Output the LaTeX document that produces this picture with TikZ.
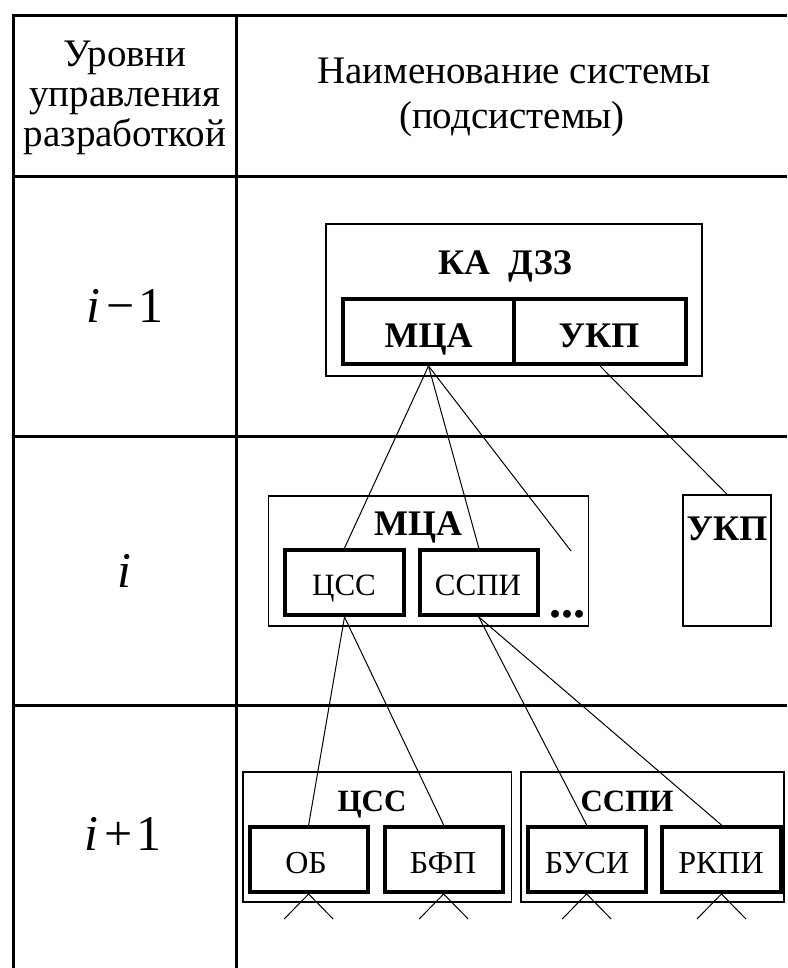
\documentclass[tikz,border=0pt]{standalone}
\usepackage{fontspec}
\setmainfont{Liberation Serif}
\newcommand\hdrfont{\fontsize{39}{44}\selectfont}
\newcommand\mathlbl{\fontsize{50}{56}\selectfont}
\newcommand\bigbold{\fontsize{36}{40}\selectfont\bfseries}
\newcommand\midbold{\fontsize{31}{36}\selectfont\bfseries}
\newcommand\regfont{\fontsize{31}{36}\selectfont}
\newcommand\lowfont{\fontsize{32}{36}\selectfont}
\begin{document}
\begin{tikzpicture}[x=1pt,y=-1pt,
  grid/.style={line width=3pt},
  outerbox/.style={draw,rectangle,line width=1.5pt,inner sep=0pt},
  innerbox/.style={draw,rectangle,line width=4pt,inner sep=0pt},
  link/.style={line width=1pt},
  lbl/.style={anchor=base,inner sep=0pt}]
\useasboundingbox (0,0) rectangle (787,968);
% table
\draw[grid] (13,968) -- (13,16) -- (787,16);
\draw[grid] (236.5,16) -- (236.5,968);
\draw[grid] (13,177) -- (787,177);
\draw[grid] (13,436.5) -- (787,436.5);
\draw[grid] (13,705) -- (787,705);
% header
\node[lbl] (h1) at (125,67) {\hdrfont Уровни};
\node[lbl] (h2) at (125,107) {\hdrfont управления};
\node[lbl] (h3) at (125,147) {\hdrfont разработкой};
\node[lbl] (h4) at (514,84) {\hdrfont Наименование системы};
\node[lbl] (h5) at (512,129) {\hdrfont (подсистемы)};
% levels
\node[lbl] (l1) at (125,322) {\mathlbl\textit{i}\hspace{0.12em}−\hspace{0.08em}1};
\node[lbl] (l2) at (124,587) {\mathlbl\textit{i}};
\node[lbl] (l3) at (123,850) {\mathlbl\textit{i}\hspace{0.12em}+\hspace{0.08em}1};
% level i-1
\node[outerbox,minimum width=376pt,minimum height=152pt] (ka) at (514,300) {};
\node[innerbox,minimum width=171pt,minimum height=65pt] (kaM) at (428.5,331.5) {};
\node[innerbox,minimum width=172pt,minimum height=65pt] (kaU) at (600,331.5) {};
\node[lbl] (kaT) at (505,274) {\bigbold КА\hspace{0.5em}ДЗЗ};
\node[lbl] (kaMT) at (428.5,347) {\bigbold МЦА};
\node[lbl] (kaUT) at (599,347) {\bigbold УКП};
% level i
\node[outerbox,minimum width=320pt,minimum height=130pt] (mca) at (428.7,561) {};
\node[lbl] (mcaT) at (418,535) {\bigbold МЦА};
\node[innerbox,minimum width=119pt,minimum height=65pt] (css) at (344.5,582.5) {};
\node[innerbox,minimum width=118.4pt,minimum height=65pt] (sspi) at (478.8,582.5) {};
\node[lbl] (cssT) at (344,595) {\regfont ЦСС};
\node[lbl] (sspiT) at (478,595) {\regfont ССПИ};
\node[anchor=base west,inner sep=0pt] (dots) at (549,617) {\fontsize{48}{52}\selectfont\bfseries ...};
\coordinate (more) at (571,551);
\node[outerbox,minimum width=88pt,minimum height=131pt] (ukp) at (727,560.5) {};
\node[lbl] (ukpT) at (727,540) {\bigbold УКП};
% level i+1
\node[outerbox,minimum width=268.7pt,minimum height=130pt] (cssB) at (377.35,837) {};
\node[outerbox,minimum width=263pt,minimum height=130pt] (sspiB) at (652.5,837) {};
\node[lbl] (cssBT) at (372,811) {\midbold ЦСС};
\node[lbl] (sspiBT) at (627,811) {\midbold ССПИ};
\node[innerbox,minimum width=118.3pt,minimum height=65pt] (ob) at (308.65,859.5) {};
\node[innerbox,minimum width=118.3pt,minimum height=65pt] (bfp) at (443.65,859.5) {};
\node[innerbox,minimum width=117.9pt,minimum height=65pt] (busi) at (586.65,859.5) {};
\node[innerbox,minimum width=118.3pt,minimum height=65pt] (rkpi) at (721.45,859.5) {};
\node[lbl] (obT) at (306,873) {\lowfont ОБ};
\node[lbl] (bfpT) at (443,873) {\lowfont БФП};
\node[lbl] (busiT) at (587,873) {\lowfont БУСИ};
\node[lbl] (rkpiT) at (721,873) {\lowfont РКПИ};
% connectors
\draw[link] (kaM.south) -- (css.north);
\draw[link] (kaM.south) -- (sspi.north);
\draw[link] (kaM.south) -- (more);
\draw[link] (kaU.south) -- (ukp.north);
\draw[link] (css.south) -- (ob.north);
\draw[link] (css.south) -- (bfp.north);
\draw[link] (sspi.south) -- (busi.north);
\draw[link] (sspi.south) -- (rkpi.north);
\foreach \b in {ob,bfp,busi,rkpi}{
  \draw[link] (\b.south) -- ++(-24.5,25);
  \draw[link] (\b.south) -- ++(24.5,25);
}
\end{tikzpicture}
\end{document}
